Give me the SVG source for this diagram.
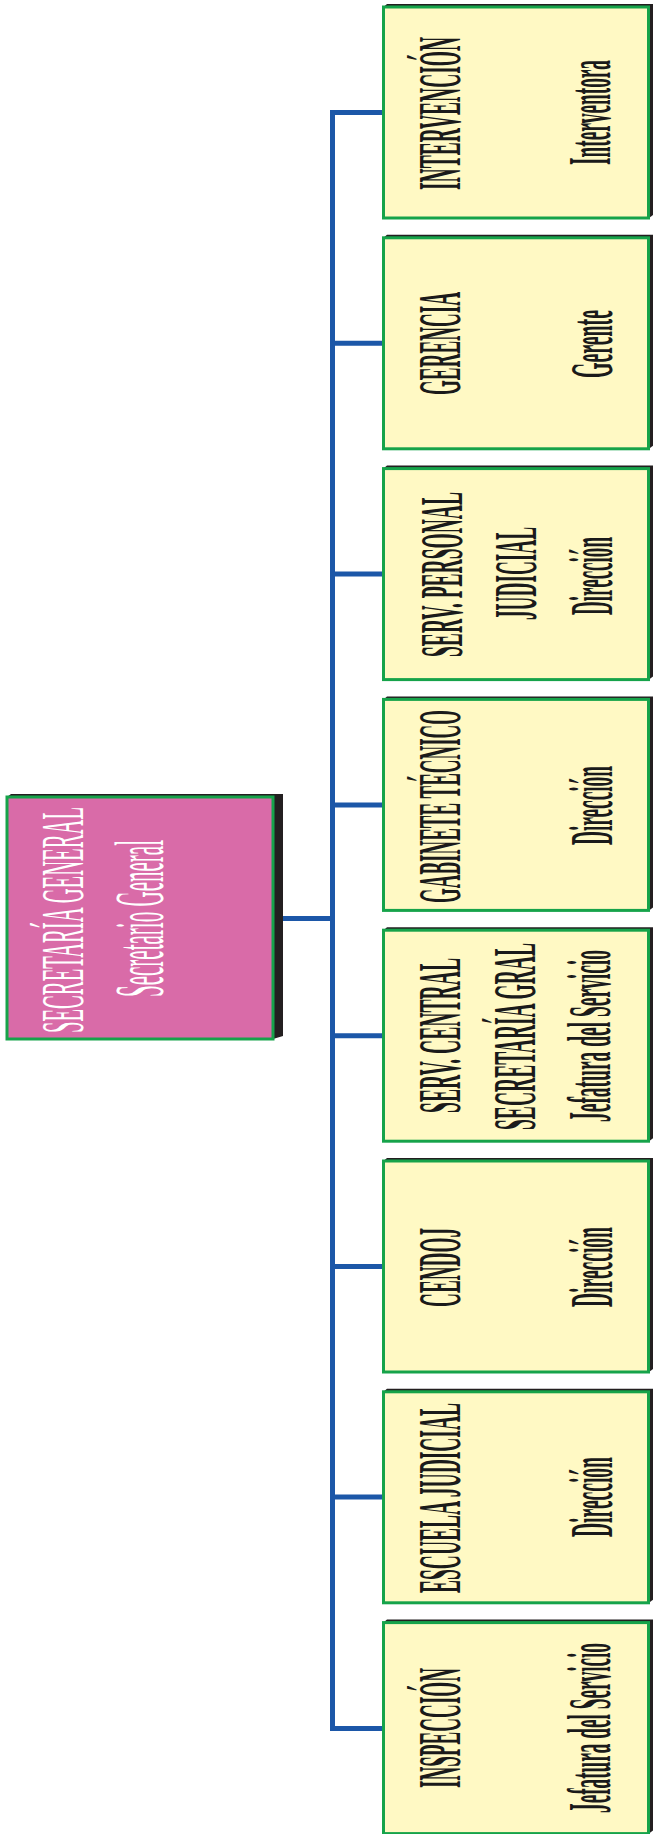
<svg xmlns="http://www.w3.org/2000/svg" width="654" height="1834" viewBox="0 0 654 1834">
<defs>
<style>
.box{fill:#fff9c4;stroke:#16a34a;stroke-width:3}
.shadow{fill:#231f20}
.main{fill:#d96ba8;stroke:#16a34a;stroke-width:3}
.t{font-family:"Liberation Serif","Times New Roman",serif;font-weight:bold;font-size:62px;fill:#1a1a1a}
.tw{font-family:"Liberation Serif","Times New Roman",serif;font-size:62px;fill:#ffffff}
.conn{stroke:#1c57a8;stroke-width:5;fill:none;stroke-linecap:butt}
</style>
</defs>
<rect width="654" height="1834" fill="#ffffff"/>
<g id="connectors">
<path class="conn" d="M274,918.5 H332.5"/>
<path class="conn" d="M383,112.5 H332.5 V1728.5 H383"/>
<path class="conn" d="M332.5,343.3 H383 M332.5,574 H383 M332.5,805 H383 M332.5,1035.7 H383 M332.5,1266.5 H383 M332.5,1497 H383"/>
</g>
<g id="secretaria-general">
<polygon class="shadow" points="7,797 11,794 283,794 283,1036 273,1039"/>
<rect class="main" x="7" y="797" width="266" height="242"/>
<text class="tw" transform="translate(83,1033) rotate(-90)" textLength="226" lengthAdjust="spacingAndGlyphs">SECRETARÍA GENERAL</text>
<text class="tw" style="font-size:70px" transform="translate(163,997) rotate(-90)" textLength="157" lengthAdjust="spacingAndGlyphs">Secretario General</text>
</g>
<g id="intervencion">
<polygon class="shadow" points="383.5,7 387,4 653,4 653,215 649,218"/>
<rect class="box" x="383.5" y="7" width="265" height="211"/>
<text class="t" transform="translate(460,190) rotate(-90)" textLength="153" lengthAdjust="spacingAndGlyphs">INTERVENCIÓN</text>
<text class="t" transform="translate(610,165) rotate(-90)" textLength="105" lengthAdjust="spacingAndGlyphs">Interventora</text>
</g>
<g id="gerencia">
<polygon class="shadow" points="383.5,237.8 387,234.8 653,234.8 653,445.8 649,448.8"/>
<rect class="box" x="383.5" y="237.8" width="265" height="211"/>
<text class="t" transform="translate(460,395) rotate(-90)" textLength="103" lengthAdjust="spacingAndGlyphs">GERENCIA</text>
<text class="t" transform="translate(612,378) rotate(-90)" textLength="68" lengthAdjust="spacingAndGlyphs">Gerente</text>
</g>
<g id="serv-personal-judicial">
<polygon class="shadow" points="383.5,468.6 387,465.6 653,465.6 653,676.6 649,679.6"/>
<rect class="box" x="383.5" y="468.6" width="265" height="211"/>
<text class="t" transform="translate(462,657) rotate(-90)" textLength="165" lengthAdjust="spacingAndGlyphs">SERV. PERSONAL</text>
<text class="t" transform="translate(536,620) rotate(-90)" textLength="93" lengthAdjust="spacingAndGlyphs">JUDICIAL</text>
<text class="t" transform="translate(612,615) rotate(-90)" textLength="78" lengthAdjust="spacingAndGlyphs">Dirección</text>
</g>
<g id="gabinete-tecnico">
<polygon class="shadow" points="383.5,699.4 387,696.4 653,696.4 653,907.4 649,910.4"/>
<rect class="box" x="383.5" y="699.4" width="265" height="211"/>
<text class="t" transform="translate(460,903) rotate(-90)" textLength="193" lengthAdjust="spacingAndGlyphs">GABINETE TÉCNICO</text>
<text class="t" transform="translate(612,845) rotate(-90)" textLength="79" lengthAdjust="spacingAndGlyphs">Dirección</text>
</g>
<g id="serv-central">
<polygon class="shadow" points="383.5,930.2 387,927.2 653,927.2 653,1138.2 649,1141.2"/>
<rect class="box" x="383.5" y="930.2" width="265" height="211"/>
<text class="t" transform="translate(460,1113) rotate(-90)" textLength="155" lengthAdjust="spacingAndGlyphs">SERV. CENTRAL</text>
<text class="t" transform="translate(535,1130) rotate(-90)" textLength="187" lengthAdjust="spacingAndGlyphs">SECRETARÍA GRAL</text>
<text class="t" transform="translate(610,1122) rotate(-90)" textLength="172" lengthAdjust="spacingAndGlyphs">Jefatura del Servicio</text>
</g>
<g id="cendoj">
<polygon class="shadow" points="383.5,1161 387,1158 653,1158 653,1369 649,1372"/>
<rect class="box" x="383.5" y="1161" width="265" height="211"/>
<text class="t" transform="translate(460,1307) rotate(-90)" textLength="79" lengthAdjust="spacingAndGlyphs">CENDOJ</text>
<text class="t" transform="translate(612,1307) rotate(-90)" textLength="80" lengthAdjust="spacingAndGlyphs">Dirección</text>
</g>
<g id="escuela-judicial">
<polygon class="shadow" points="383.5,1391.8 387,1388.8 653,1388.8 653,1599.8 649,1602.8"/>
<rect class="box" x="383.5" y="1391.8" width="265" height="211"/>
<text class="t" transform="translate(460,1593) rotate(-90)" textLength="190" lengthAdjust="spacingAndGlyphs">ESCUELA JUDICIAL</text>
<text class="t" transform="translate(612,1537) rotate(-90)" textLength="80" lengthAdjust="spacingAndGlyphs">Dirección</text>
</g>
<g id="inspeccion">
<polygon class="shadow" points="383.5,1622.6 387,1619.6 653,1619.6 653,1830.6 649,1833.6"/>
<rect class="box" x="383.5" y="1622.6" width="265" height="211"/>
<text class="t" transform="translate(460,1788) rotate(-90)" textLength="120" lengthAdjust="spacingAndGlyphs">INSPECCIÓN</text>
<text class="t" transform="translate(610,1813) rotate(-90)" textLength="170" lengthAdjust="spacingAndGlyphs">Jefatura del Servicio</text>
</g>
</svg>
